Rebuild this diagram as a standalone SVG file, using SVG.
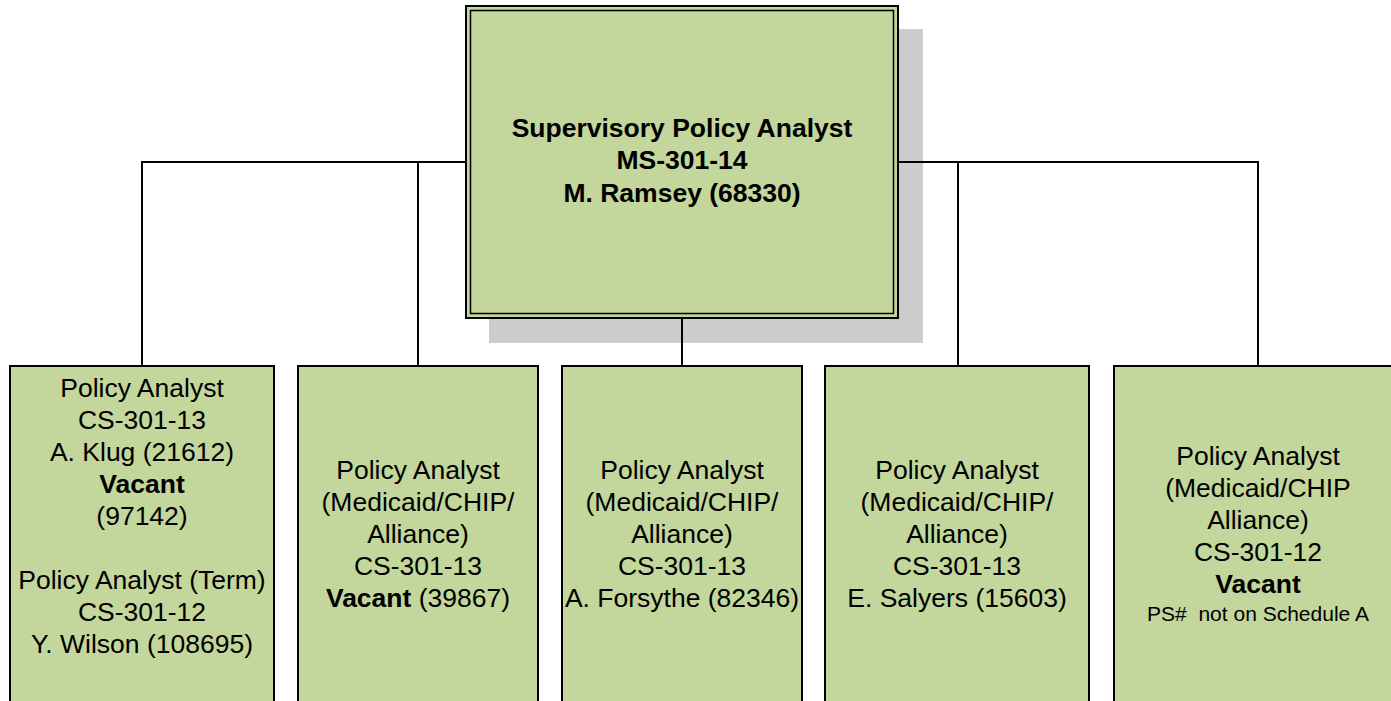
<svg xmlns="http://www.w3.org/2000/svg" width="1391" height="701" viewBox="0 0 1391 701">
<style>
.box{fill:#c3d69b;stroke:#000;stroke-width:2}
.conn{stroke:#000;stroke-width:2;fill:none}
text{font-family:"Liberation Sans",Arial,sans-serif;font-size:26.5px;fill:#000;text-anchor:middle}
.b{font-weight:bold}
.sm{font-size:21px}
</style>
<rect width="1391" height="701" fill="#fff"/>
<rect id="shadow" x="489" y="29" width="434" height="314" fill="#cccccc"/>
<g id="connectors">
<path class="conn" d="M142,366 V162 H1258 V366"/>
<path class="conn" d="M418,162 V366"/>
<path class="conn" d="M958,162 V366"/>
<path class="conn" d="M682,318 V366"/>
</g>
<g id="supervisor">
<rect class="box" x="466" y="6" width="432" height="312"/>
<rect x="470.5" y="10.5" width="423" height="303" fill="none" stroke="#000" stroke-width="1.5"/>
<text class="b" x="682" y="137">Supervisory Policy Analyst</text>
<text class="b" x="682" y="169">MS-301-14</text>
<text class="b" x="682" y="202">M. Ramsey (68330)</text>
</g>
<g id="analyst1">
<rect class="box" x="10" y="366" width="264" height="345"/>
<text x="142" y="397">Policy Analyst</text>
<text x="142" y="429">CS-301-13</text>
<text x="142" y="461">A. Klug (21612)</text>
<text class="b" x="142" y="493">Vacant</text>
<text x="142" y="525">(97142)</text>
<text x="142" y="589">Policy Analyst (Term)</text>
<text x="142" y="621">CS-301-12</text>
<text x="142" y="653">Y. Wilson (108695)</text>
</g>
<g id="analyst2">
<rect class="box" x="298" y="366" width="240" height="345"/>
<text x="418" y="479">Policy Analyst</text>
<text x="418" y="511">(Medicaid/CHIP/</text>
<text x="418" y="543">Alliance)</text>
<text x="418" y="575">CS-301-13</text>
<text x="418" y="607"><tspan class="b">Vacant</tspan> (39867)</text>
</g>
<g id="analyst3">
<rect class="box" x="562" y="366" width="240" height="345"/>
<text x="682" y="479">Policy Analyst</text>
<text x="682" y="511">(Medicaid/CHIP/</text>
<text x="682" y="543">Alliance)</text>
<text x="682" y="575">CS-301-13</text>
<text x="682" y="607">A. Forsythe (82346)</text>
</g>
<g id="analyst4">
<rect class="box" x="825" y="366" width="264" height="345"/>
<text x="957" y="479">Policy Analyst</text>
<text x="957" y="511">(Medicaid/CHIP/</text>
<text x="957" y="543">Alliance)</text>
<text x="957" y="575">CS-301-13</text>
<text x="957" y="607">E. Salyers (15603)</text>
</g>
<g id="analyst5">
<rect class="box" x="1114" y="366" width="288" height="345"/>
<text x="1258" y="465">Policy Analyst</text>
<text x="1258" y="497">(Medicaid/CHIP</text>
<text x="1258" y="529">Alliance)</text>
<text x="1258" y="561">CS-301-12</text>
<text class="b" x="1258" y="593">Vacant</text>
<text class="sm" x="1258" y="621" xml:space="preserve">PS#  not on Schedule A</text>
</g>
</svg>
